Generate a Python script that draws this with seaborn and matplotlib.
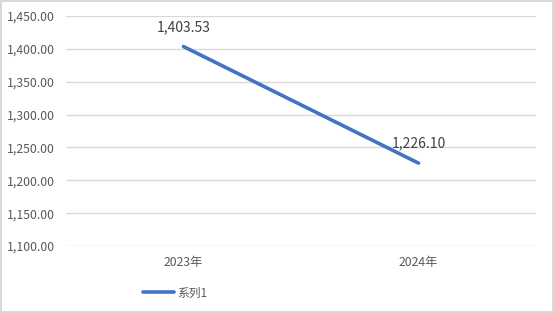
import matplotlib
matplotlib.use("Agg")
import matplotlib.pyplot as plt
import seaborn as sns
import pandas as pd
from matplotlib.ticker import FuncFormatter, MultipleLocator

categories = ["2023年", "2024年"]
values = [1403.53, 1226.10]
series_name = "系列1"

sns.set_theme(style="white")
plt.rcParams['font.family'] = ['Noto Sans CJK SC', 'DejaVu Sans']

df = pd.DataFrame({"year": categories, "value": values, "series": series_name})

fig = plt.figure(figsize=(5.54, 3.13), dpi=100)
fig.patch.set_edgecolor("#D9D9D9")
fig.patch.set_linewidth(1.5)
ax = fig.add_axes([66/554, 1 - 246/313, 470/554, 230/313])

sns.lineplot(data=df, x="year", y="value", hue="series", palette=["#4472C4"],
             linewidth=2.6, ax=ax, sort=False)

ax.set_xlim(-0.5, 1.5)
ax.set_ylim(1100, 1450)
ax.yaxis.set_major_locator(MultipleLocator(50))
ax.yaxis.set_major_formatter(FuncFormatter(lambda v, p: f"{v:,.2f}"))
ax.grid(axis="y", color="#D9D9D9", linewidth=1)
ax.set_axisbelow(True)
for s in ax.spines.values():
    s.set_visible(False)
ax.tick_params(axis="both", length=0, labelsize=8.8, labelcolor="#595959", pad=8)
ax.tick_params(axis="x", pad=7)
ax.set_xlabel("")
ax.set_ylabel("")

for i, v in enumerate(values):
    ax.annotate(f"{v:,.2f}", (i, v), xytext=(0, 14), textcoords="offset points",
                ha="center", va="center", fontsize=10, color="#404040")

leg = ax.legend(loc="upper center", bbox_to_anchor=(0.233, -0.13), frameon=False,
                fontsize=8.5, handlelength=2.6, handletextpad=0.3)
for t in leg.get_texts():
    t.set_color("#595959")

fig.savefig("out.png", dpi=100, edgecolor=fig.get_edgecolor())
